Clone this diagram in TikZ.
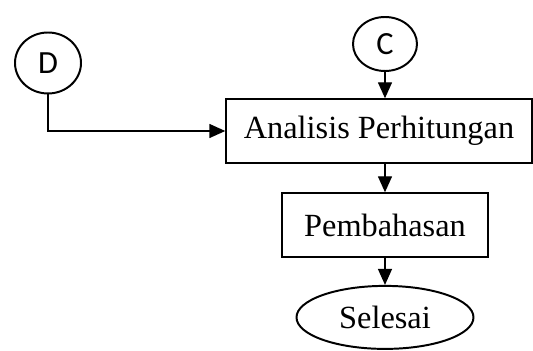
\documentclass[tikz,border=0pt]{standalone}
\usepackage{fontspec}
\setmainfont{Liberation Serif}
\newfontfamily\calibri{Carlito}
\usetikzlibrary{arrows.meta,shapes.geometric}
\tikzset{
  proses/.style={draw,line width=1pt,minimum height=1.6cm,inner sep=0pt,font=\fontsize{23}{27}\selectfont},
  konektor/.style={draw,ellipse,line width=1.4pt,inner sep=0pt,font=\calibri\fontsize{23}{27}\selectfont},
  panah/.style={line width=1pt,-{Triangle[length=0.4cm,width=0.35cm]}}
}
\begin{document}
\begin{tikzpicture}
\useasboundingbox (0,0) rectangle (13.325,8.775);
% konektor
\node[konektor,minimum width=1.65cm,minimum height=1.525cm] (D) at (1.2,7.2) {D};
\node[konektor,minimum width=1.6cm,minimum height=1.35cm] (C) at (9.625,7.675) {C};
% proses
\node[proses,minimum width=7.65cm] (analisis) at (9.475,5.5) {Analisis Perhitungan};
\node[proses,minimum width=5.15cm] (bahas) at (9.625,3.15) {Pembahasan};
\node[draw,ellipse,line width=1.4pt,inner sep=0pt,minimum width=4.425cm,minimum height=1.575cm,font=\fontsize{23}{27}\selectfont] (selesai) at (9.625,0.84) {Selesai};
% alur
\draw[panah] (C) -- (C |- analisis.north);
\draw[panah] (D) |- (analisis.west);
\draw[panah] (analisis.south -| bahas) -- (bahas);
\draw[panah] (bahas) -- (selesai);
\end{tikzpicture}
\end{document}
